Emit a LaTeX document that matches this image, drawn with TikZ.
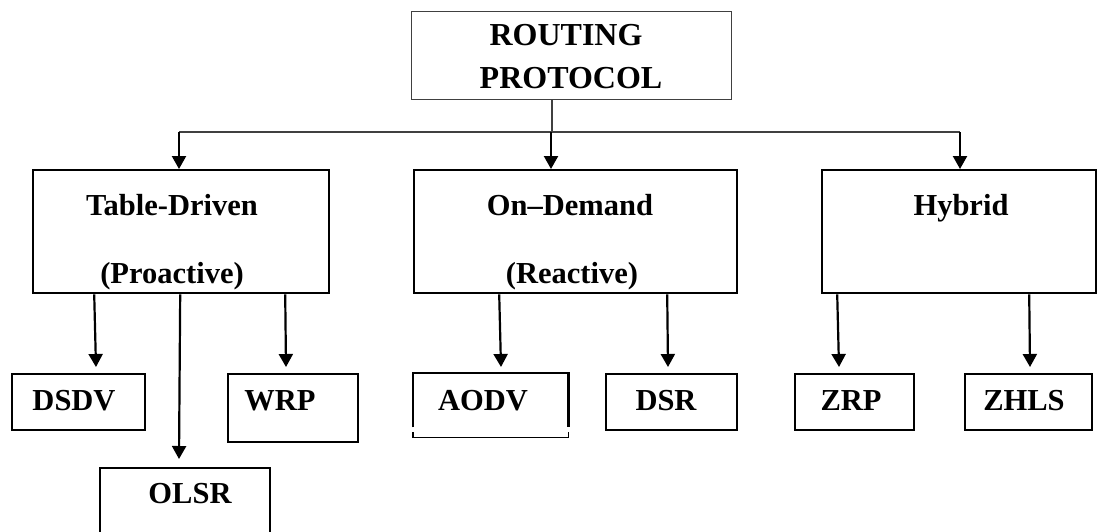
\documentclass[tikz,border=0pt]{standalone}
\usepackage{fontspec}
\setmainfont{Liberation Serif}
\usetikzlibrary{arrows.meta}
\begin{document}
\begin{tikzpicture}[x=1pt,y=-1pt,
  box/.style={draw=black, line width=2.4pt, rectangle, inner sep=0pt, anchor=north west},
  rootbox/.style={draw=black!75, line width=1.3pt, rectangle, inner sep=0pt, anchor=north west},
  lbl/.style={font=\fontsize{30.5}{36}\selectfont\bfseries, anchor=base, inner sep=0pt},
  toplbl/.style={lbl, font=\fontsize{32}{38}\selectfont\bfseries},
  arr/.style={draw=black, line width=2.2pt, -{Triangle[width=14pt,length=13pt]}},
  feed/.style={draw=black!75, line width=1.3pt},
  edge/.style={draw=black, line width=2.4pt},
  thinedge/.style={draw=black, line width=1.4pt}]
\clip (0,0) rectangle (1099,531);
\fill[white] (0,0) rectangle (1099,531);

% boxes
\node[rootbox, minimum width=320pt, minimum height=88pt] (root) at (411,11) {};
\node[box, minimum width=296pt, minimum height=123pt] (td) at (32,169) {};
\node[box, minimum width=323pt, minimum height=123pt] (od) at (413,169) {};
\node[box, minimum width=274pt, minimum height=123pt] (hy) at (821,169) {};
\node[box, minimum width=133pt, minimum height=56pt] (dsdv) at (11,373) {};
\node[box, minimum width=130pt, minimum height=68pt] (wrp) at (227,373) {};
\node[box, minimum width=170pt, minimum height=80pt] (olsr) at (99,467) {};
\node[box, draw=none, minimum width=153pt, minimum height=62pt] (aodv) at (413,373) {};
\node[box, minimum width=131pt, minimum height=56pt] (dsr) at (605,373) {};
\node[box, minimum width=119pt, minimum height=56pt] (zrp) at (794,373) {};
\node[box, minimum width=127pt, minimum height=56pt] (zhls) at (964,373) {};

% AODV box: heavy top and sides, light bottom edge with short end ticks
\draw[edge] ([yshift=10pt]aodv.south west) -- (aodv.north west) -- (aodv.north east) -- ([yshift=10pt]aodv.south east);
\draw[thinedge] ([yshift=5pt]aodv.south west) -- (aodv.south west) -- (aodv.south east) -- ([yshift=5pt]aodv.south east);

% labels
\node[toplbl] (tr1) at (566,45) {ROUTING};
\node[toplbl] (tr2) at (571,88) {PROTOCOL};
\node[lbl] (ttd1) at (172,215) {Table-Driven};
\node[lbl] (ttd2) at (172,283) {(Proactive)};
\node[lbl] (tod1) at (570,215) {On–Demand};
\node[lbl] (tod2) at (572,283) {(Reactive)};
\node[lbl] (thy) at (961,215) {Hybrid};
\node[lbl] (tdsdv) at (74,410) {DSDV};
\node[lbl] (twrp) at (280,410) {WRP};
\node[lbl] (tolsr) at (190,503) {OLSR};
\node[lbl] (taodv) at (483,410) {AODV};
\node[lbl] (tdsr) at (666,410) {DSR};
\node[lbl] (tzrp) at (851,410) {ZRP};
\node[lbl] (tzhls) at (1024,410) {ZHLS};

% feed from the root to the three categories
\coordinate (hub) at (552,132);
\coordinate (ftd) at (179,132);
\coordinate (fod) at (551,132);
\coordinate (fhy) at (960,132);
\draw[feed] (root.south -| hub) -- (hub);
\draw[feed] (ftd) -- (fhy);
\draw[arr] (ftd) -- (ftd |- td.north);
\draw[arr] (fod) -- (fod |- od.north);
\draw[arr] (fhy) -- (fhy |- hy.north);

% arrow tips above the protocol boxes
\coordinate (pdsdv) at (96,367);
\coordinate (polsr) at (179,459);
\coordinate (pwrp) at (286,367);
\coordinate (paodv) at (501,367);
\coordinate (pdsr) at (668,367);
\coordinate (pzrp) at (839,367);
\coordinate (pzhls) at (1030,367);
\draw[arr] ([xshift=-87pt]td.south) -- (pdsdv);
\draw[arr] ([xshift=-1pt]td.south) -- (polsr);
\draw[arr] ([xshift=104pt]td.south) -- (pwrp);
\draw[arr] ([xshift=-76.5pt]od.south) -- (paodv);
\draw[arr] ([xshift=91.5pt]od.south) -- (pdsr);
\draw[arr] ([xshift=-122pt]hy.south) -- (pzrp);
\draw[arr] ([xshift=70pt]hy.south) -- (pzhls);
\end{tikzpicture}
\end{document}
